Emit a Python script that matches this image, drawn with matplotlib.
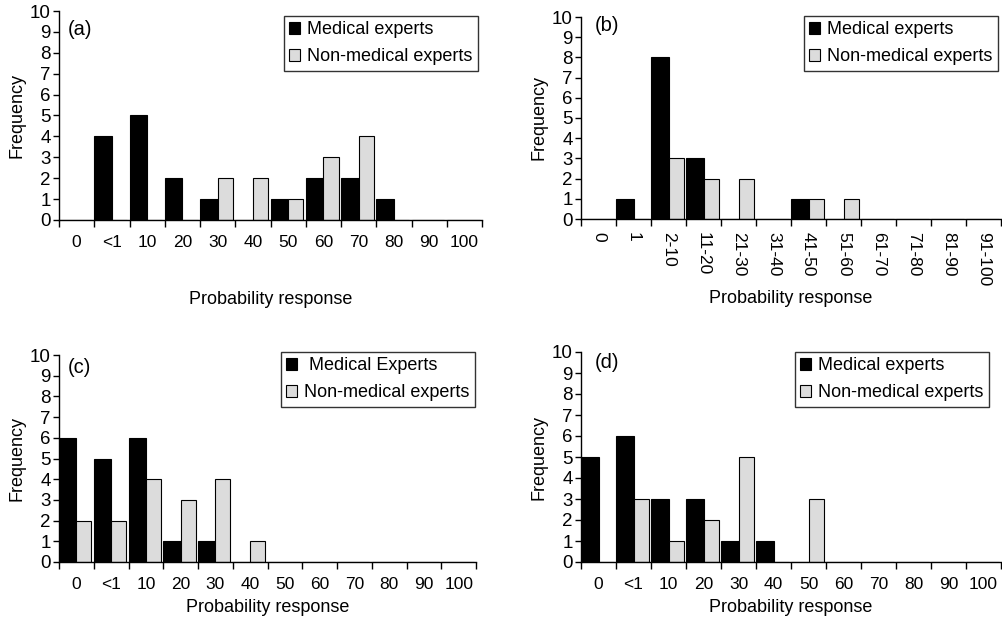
import numpy as np
import matplotlib
matplotlib.use("Agg")
import matplotlib.pyplot as plt
from matplotlib.patches import Patch

plt.rcParams['font.family'] = ['Liberation Sans', 'DejaVu Sans']

# Category labels
cats_a = ['0', '<1', '10', '20', '30', '40', '50', '60', '70', '80', '90', '100']
cats_b = ['0', '1', '2-10', '11-20', '21-30', '31-40', '41-50', '51-60',
          '61-70', '71-80', '81-90', '91-100']
cats_c = cats_a
cats_d = cats_a

# Frequencies
med_a = [0, 4, 5, 2, 1, 0, 1, 2, 2, 1, 0, 0]
non_a = [0, 0, 0, 0, 2, 2, 1, 3, 4, 0, 0, 0]
med_b = [0, 1, 8, 3, 0, 0, 1, 0, 0, 0, 0, 0]
non_b = [0, 0, 3, 2, 2, 0, 1, 1, 0, 0, 0, 0]
med_c = [6, 5, 6, 1, 1, 0, 0, 0, 0, 0, 0, 0]
non_c = [2, 2, 4, 3, 4, 1, 0, 0, 0, 0, 0, 0]
med_d = [5, 6, 3, 3, 1, 1, 0, 0, 0, 0, 0, 0]
non_d = [0, 3, 1, 2, 5, 0, 3, 0, 0, 0, 0, 0]

W, H = 1002, 620
fig = plt.figure(figsize=(W / 100, H / 100), dpi=100)
gray = '#dcdcdc'


def px_axes(left, right, bottom, top):
    return fig.add_axes([left / W, 1 - bottom / H, (right - left) / W, (bottom - top) / H])


def panel(ax, cats, med, non, tag, tag_pos, med_label, rotate, legend_box, tick_pad, label_pad):
    n = len(cats)
    x = np.arange(n)
    ax.bar(x, med, width=0.5, align='edge', color='black', edgecolor='black', linewidth=0.8)
    ax.bar(x + 0.5, non, width=0.43, align='edge', color=gray, edgecolor='black', linewidth=0.8)
    ax.set_xlim(0, n)
    ax.set_ylim(0, 10)
    ax.set_yticks(range(11))
    ax.set_xticks(range(n + 1))
    ax.set_xticklabels([])
    ax.set_xticks(x + 0.5, minor=True)
    if rotate:
        ax.set_xticklabels(cats, minor=True, rotation=-90, va='top', ha='center')
    else:
        ax.set_xticklabels(cats, minor=True)
    ax.tick_params(axis='x', which='major', length=5, width=1, direction='out')
    ax.tick_params(axis='x', which='minor', length=0, pad=tick_pad, labelsize=12.5)
    ax.tick_params(axis='y', length=4, width=1, pad=2, labelsize=13.5)
    for s in ['top', 'right']:
        ax.spines[s].set_visible(False)
    for s in ['left', 'bottom']:
        ax.spines[s].set_linewidth(1)
    ax.set_ylabel('Frequency', fontsize=13, labelpad=3)
    ax.set_xlabel('Probability response', fontsize=13, labelpad=label_pad)
    ax.text(tag_pos[0], tag_pos[1], tag, transform=ax.transAxes, fontsize=14.5,
            va='center', ha='left')
    handles = [Patch(facecolor='black', edgecolor='black', linewidth=0.8),
               Patch(facecolor=gray, edgecolor='black', linewidth=0.8)]
    lx, ly = legend_box
    leg = ax.legend(handles, [med_label, 'Non-medical experts'], loc='upper left',
                    bbox_to_anchor=(lx / W, 1 - ly / H), bbox_transform=fig.transFigure,
                    fontsize=13, handlelength=0.6, handleheight=0.6, handletextpad=0.4,
                    borderpad=0.3, labelspacing=0.55, borderaxespad=0, fancybox=False,
                    frameon=True)
    leg.get_frame().set_edgecolor('black')
    leg.get_frame().set_linewidth(1)


ax_a = px_axes(59, 482, 220, 11)
panel(ax_a, cats_a, med_a, non_a, '(a)', (0.02, 0.91), 'Medical experts', False,
      (284, 16), 11, 29)

ax_b = px_axes(581, 1001, 219, 17)
panel(ax_b, cats_b, med_b, non_b, '(b)', (0.033, 0.96), 'Medical experts', True,
      (804, 16), 9, 3)

ax_c = px_axes(59, 476, 562, 355)
panel(ax_c, cats_c, med_c, non_c, '(c)', (0.02, 0.94), ' Medical Experts', False,
      (281, 352), 11, 5)

ax_d = px_axes(581, 1001, 562, 352)
panel(ax_d, cats_d, med_d, non_d, '(d)', (0.033, 0.95), 'Medical experts', False,
      (795, 352), 11, 5)

fig.savefig('out.png', dpi=100)
